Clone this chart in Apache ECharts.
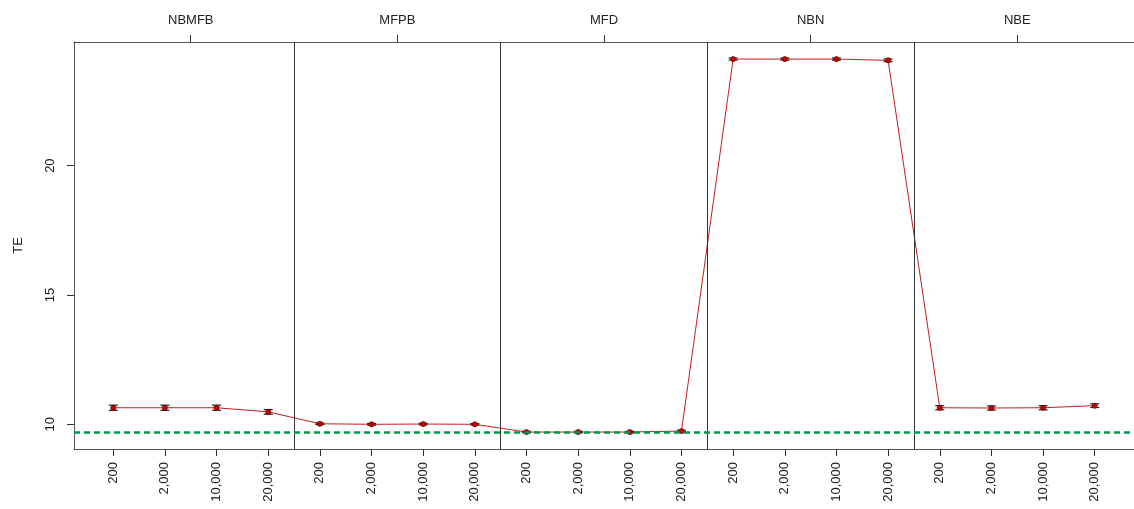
<!DOCTYPE html>
<html>
<head>
<meta charset="utf-8">
<script src="https://cdn.jsdelivr.net/npm/echarts@6/dist/echarts.min.js"></script>
<style>
  html, body { margin: 0; padding: 0; background: #fff; }
  #chart { width: 1134px; height: 509px; }
</style>
</head>
<body>
<div id="chart"></div>
<script>
// Methods (panels) and sample sizes (ticks inside each panel)
const methods = ['NBMFB', 'MFPB', 'MFD', 'NBN', 'NBE'];
const sizeLabels = ['200', '2,000', '10,000', '20,000'];

// TE mean and half-width of the error bar for each method, by sample size
const nbmfbTE = [10.64, 10.64, 10.64, 10.48];
const nbmfbErr = [0.10, 0.10, 0.10, 0.09];
const mfpbTE = [10.02, 10.00, 10.01, 10.00];
const mfpbErr = [0.03, 0.03, 0.03, 0.03];
const mfdTE = [9.70, 9.70, 9.70, 9.74];
const mfdErr = [0.03, 0.03, 0.03, 0.03];
const nbnTE = [24.12, 24.12, 24.12, 24.07];
const nbnErr = [0.04, 0.04, 0.04, 0.05];
const nbeTE = [10.64, 10.63, 10.64, 10.72];
const nbeErr = [0.08, 0.08, 0.08, 0.07];

// Reference level (dashed green line)
const referenceTE = 9.69;

const yTicks = [10, 15, 20];

const teGroups = [nbmfbTE, mfpbTE, mfdTE, nbnTE, nbeTE];
const errGroups = [nbmfbErr, mfpbErr, mfdErr, nbnErr, nbeErr];

const n = sizeLabels.length;
const xLabels = [];
const lineData = [];
const errData = [];
teGroups.forEach((g, gi) => {
  g.forEach((v, i) => {
    const x = gi * n + i;
    xLabels.push(sizeLabels[i]);
    lineData.push([x, v]);
    errData.push([x, v - errGroups[gi][i], v + errGroups[gi][i]]);
  });
});
const xIdx = xLabels.map((_, i) => i);
const panelCenters = methods.map((_, gi) => gi * n + (n - 1) / 2);
const dividers = methods.slice(1).map((_, gi) => ({ xAxis: (gi + 1) * n - 0.5 }));

const FONT = 'Liberation Sans, Arial, sans-serif';
const TXT = '#222';

const chart = echarts.init(document.getElementById('chart'), null, { renderer: 'canvas' });

chart.setOption({
  animation: false,
  backgroundColor: '#fff',
  grid: { left: 74, top: 42, bottom: 60, right: -6, show: false },
  xAxis: [
    {
      type: 'value', position: 'bottom', min: -0.76, max: xLabels.length - 1 + 0.76,
      axisLine: { show: true, onZero: false, lineStyle: { color: '#555' } },
      splitLine: { show: false },
      axisTick: { show: true, length: 7, inside: false, customValues: xIdx, lineStyle: { color: '#333' } },
      axisLabel: {
        customValues: xIdx, rotate: 90, margin: 13,
        fontFamily: FONT, fontSize: 13, color: TXT,
        formatter: v => xLabels[Math.round(v)]
      }
    },
    {
      type: 'value', position: 'top', min: -0.76, max: xLabels.length - 1 + 0.76,
      axisLine: { show: true, onZero: false, lineStyle: { color: '#555' } },
      splitLine: { show: false },
      axisTick: { show: true, length: 7, inside: false, customValues: panelCenters, lineStyle: { color: '#333' } },
      axisLabel: {
        customValues: panelCenters, margin: 15,
        fontFamily: FONT, fontSize: 13, color: TXT,
        formatter: v => methods[Math.round((v - (n - 1) / 2) / n)]
      }
    }
  ],
  yAxis: {
    type: 'value', position: 'left', min: 9.045, max: 24.78,
    name: 'TE', nameLocation: 'middle', nameGap: 49, nameRotate: 90,
    nameTextStyle: { fontFamily: FONT, fontSize: 13, color: TXT },
    axisLine: { show: true, onZero: false, lineStyle: { color: '#555' } },
    splitLine: { show: false },
    axisTick: { show: true, length: 7, customValues: yTicks, lineStyle: { color: '#333' } },
    axisLabel: {
      customValues: yTicks, rotate: 90, margin: 17,
      fontFamily: FONT, fontSize: 13, color: TXT
    }
  },
  series: [
    {
      type: 'line',
      data: lineData,
      symbol: 'none',
      lineStyle: { color: '#c41e1e', width: 1 },
      markLine: {
        silent: true, symbol: 'none', label: { show: false },
        data: [
          ...dividers.map(d => Object.assign({ lineStyle: { color: '#333', width: 1, type: 'solid' } }, d)),
          { yAxis: referenceTE, lineStyle: { color: '#00994d', width: 2.5, type: [6, 4] } }
        ]
      },
      z: 2
    },
    {
      type: 'custom',
      data: errData,
      renderItem: (params, api) => {
        const x = api.value(0);
        const lo = api.coord([x, api.value(1)]);
        const hi = api.coord([x, api.value(2)]);
        const c = api.coord([x, (api.value(1) + api.value(2)) / 2]);
        const hw = 4.5;
        const st = { stroke: '#222', lineWidth: 1.2 };
        return {
          type: 'group',
          children: [
            { type: 'line', shape: { x1: lo[0], y1: lo[1], x2: hi[0], y2: hi[1] }, style: st },
            { type: 'line', shape: { x1: lo[0] - hw, y1: lo[1], x2: lo[0] + hw, y2: lo[1] }, style: st },
            { type: 'line', shape: { x1: hi[0] - hw, y1: hi[1], x2: hi[0] + hw, y2: hi[1] }, style: st },
            { type: 'circle', shape: { cx: c[0], cy: c[1], r: 2.6 }, style: { fill: '#cc0000', stroke: '#440000', lineWidth: 0.6 } }
          ]
        };
      },
      z: 3
    }
  ]
});
</script>
</body>
</html>
